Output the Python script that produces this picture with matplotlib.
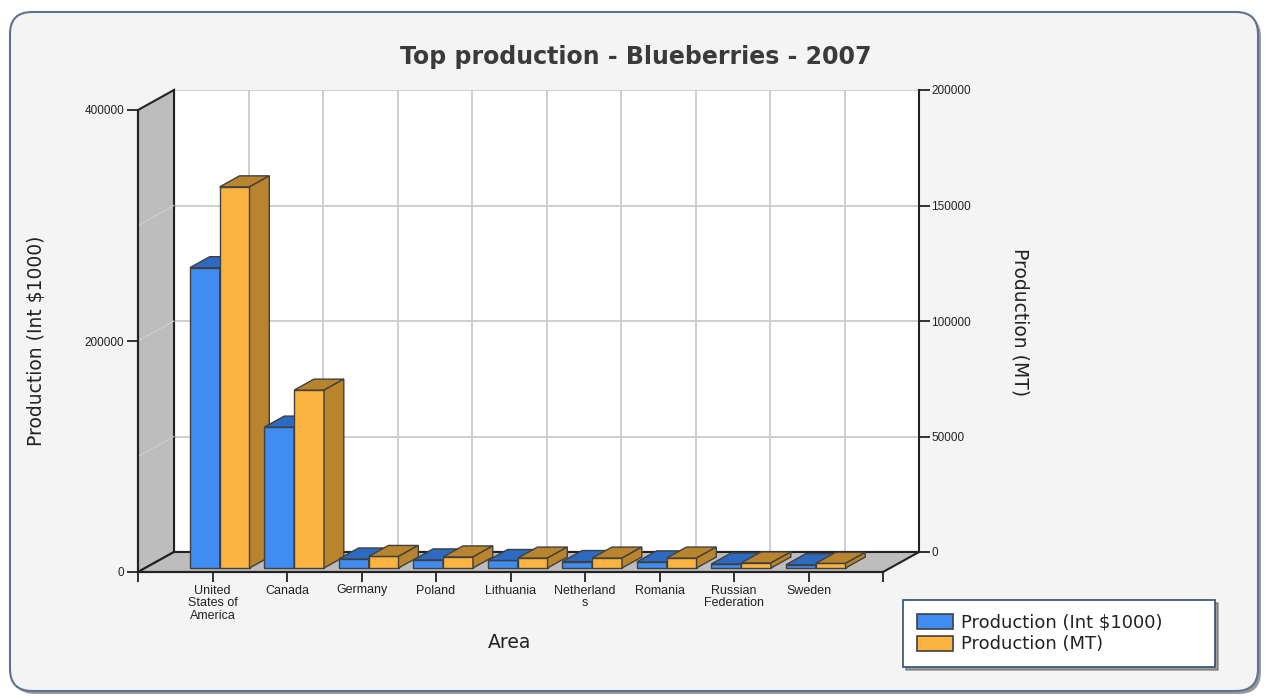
import matplotlib
matplotlib.use("Agg")
import matplotlib.pyplot as plt
from matplotlib.patches import Polygon, Patch, FancyBboxPatch
from matplotlib.transforms import IdentityTransform

# data
areas = ["United\nStates of\nAmerica", "Canada", "Germany", "Poland", "Lithuania",
         "Netherland\ns", "Romania", "Russian\nFederation", "Sweden"]
prod_int = [260000, 122000, 7800, 7000, 6500, 5600, 5300, 3500, 2800]      # Int $1000
prod_mt = [165000, 77000, 5000, 4800, 4300, 4300, 4300, 2200, 2000]        # MT
left_ticks = [0, 200000, 400000]
right_ticks = [0, 50000, 100000, 150000, 200000]

W, H = 1279, 700
fig = plt.figure(figsize=(W / 100, H / 100), dpi=100)
fig.patch.set_facecolor("white")

# rounded grey panel with shadow
shadow = FancyBboxPatch((13, 6), 1248, 679, boxstyle="round,pad=0,rounding_size=22",
                        transform=IdentityTransform(), facecolor="#9a9a9a",
                        edgecolor="none", zorder=-2)
panel = FancyBboxPatch((10, 9), 1248, 679, boxstyle="round,pad=0,rounding_size=22",
                       transform=IdentityTransform(), facecolor="#f4f4f4",
                       edgecolor="#5d7290", linewidth=1.5, zorder=-1)
fig.patches.extend([shadow, panel])

# front plane and back plane (pseudo 3d)
x0, x1, y0, y1 = 138, 883, 572, 110
ddx, ddy = 36, 20
ax_back = fig.add_axes([(x0 + ddx) / W, 1 - (y0 - ddy) / H, (x1 - x0) / W, (y0 - y1) / H])
ax = fig.add_axes([x0 / W, 1 - y0 / H, (x1 - x0) / W, (y0 - y1) / H])

n = len(areas)
YMAX = 400000
ax_back.set_xlim(0, n + 1)
ax_back.set_ylim(0, 200000)
ax_back.set_facecolor("white")
ax_back.set_xticks(range(1, n + 1))
ax_back.set_yticks(right_ticks)
ax_back.grid(True, color="#cccccc", linewidth=1.3)
ax_back.tick_params(axis="x", length=0, labelbottom=False)
ax_back.yaxis.tick_right()
ax_back.tick_params(axis="y", length=8, width=1.3, colors="#222222", labelsize=8.5, pad=1)
for lab in ax_back.get_yticklabels():
    lab.set_fontfamily("Liberation Sans")
ax_back.spines["top"].set_visible(False)
for s in ["left", "right", "bottom"]:
    ax_back.spines[s].set_linewidth(1.5)
    ax_back.spines[s].set_color("#222222")

ax.set_xlim(0, n + 1)
ax.set_ylim(0, YMAX)
ax.patch.set_alpha(0)
ax.spines["top"].set_visible(False)
ax.spines["right"].set_visible(False)
for s in ["left", "bottom"]:
    ax.spines[s].set_linewidth(1.5)
    ax.spines[s].set_color("#222222")
    ax.spines[s].set_zorder(10)
ax.set_yticks(left_ticks)
ax.set_yticklabels([str(v) for v in left_ticks])
ax.set_xticks(range(0, n + 2))
ax.set_xticklabels([""] + areas + [""])
ax.tick_params(axis="y", length=8, width=1.3, colors="#222222", labelsize=8.5, pad=2)
ax.tick_params(axis="x", length=7, width=1.3, colors="#222222", labelsize=9, pad=2)
for lab in ax.get_xticklabels() + ax.get_yticklabels():
    lab.set_fontfamily("Liberation Sans")
for lab in ax.get_xticklabels():
    lab.set_linespacing(1.1)

# depth offset in data units of the front axes
DX = ddx / (x1 - x0) * (n + 1)
DY = ddy / (y0 - y1) * YMAX

wall = "#bdbdbd"
ax.add_patch(Polygon([(0, 0), (DX, DY), (DX, YMAX + DY), (0, YMAX)], closed=True,
                     facecolor=wall, edgecolor="#222222", linewidth=1.5, clip_on=False, zorder=1))
ax.add_patch(Polygon([(0, 0), (n + 1, 0), (n + 1 + DX, DY), (DX, DY)], closed=True,
                     facecolor=wall, edgecolor="#222222", linewidth=1.5, clip_on=False, zorder=1))
for v in [100000, 200000, 300000]:
    ax.plot([0, DX], [v, v + DY], color="#cfcfcf", linewidth=0.8, clip_on=False, zorder=1.5)

# bars
BAR_W = 0.4
Z0, Z1 = 0.2, 0.75
edge = "#404040"
ratio = YMAX / 200000
z = 3.0


def bar3d(left, h, front, dark, z):
    b = Z0 * DY
    ddx_ = (Z1 - Z0) * DX
    ddy_ = (Z1 - Z0) * DY
    ax.bar(left, h, width=BAR_W, bottom=b, align="edge", color=front,
           edgecolor=edge, linewidth=1, zorder=z, clip_on=False)
    top = [(left, b + h), (left + BAR_W, b + h), (left + BAR_W + ddx_, b + h + ddy_),
           (left + ddx_, b + h + ddy_)]
    side = [(left + BAR_W, b), (left + BAR_W + ddx_, b + ddy_),
            (left + BAR_W + ddx_, b + h + ddy_), (left + BAR_W, b + h)]
    for pts in (top, side):
        ax.add_patch(Polygon(pts, closed=True, facecolor=dark, edgecolor=edge,
                             linewidth=1, zorder=z, clip_on=False))


for i in range(n):
    xc = i + 1
    bar3d(xc - BAR_W + Z0 * DX, prod_int[i], "#418cf0", "#2d6bc2", z)
    z += 0.01
    bar3d(xc + Z0 * DX, prod_mt[i] * ratio, "#fcb441", "#b8842e", z)
    z += 0.01

# texts
fig.text(636 / W, 1 - 57 / H, "Top production - Blueberries - 2007", ha="center", va="center",
         fontsize=17, fontweight="bold", color="#3a3a3a")
fig.text(37 / W, 1 - 341 / H, "Production (Int $1000)", rotation=90, ha="center", va="center",
         fontsize=13.5, color="#222222")
fig.text(1020 / W, 1 - 322 / H, "Production (MT)", rotation=-90, ha="center", va="center",
         fontsize=13.5, color="#222222")
fig.text(510 / W, 1 - 643 / H, "Area", ha="center", va="center", fontsize=13.5, color="#222222")

handles = [Patch(facecolor="#418cf0", edgecolor=edge, linewidth=1.2),
           Patch(facecolor="#fcb441", edgecolor=edge, linewidth=1.2)]
leg = fig.legend(handles, ["Production (Int $1000)", "Production (MT)"],
                 loc="center", bbox_to_anchor=(903 / W, 1 - 666 / H, 312 / W, 65 / H),
                 mode="expand", fancybox=False, shadow=True, fontsize=13,
                 handlelength=2.0, handleheight=0.9, handletextpad=0.45,
                 labelspacing=0.2, borderpad=0.75, borderaxespad=0)
leg.get_frame().set_edgecolor("#2f4f6f")
leg.get_frame().set_linewidth(1.2)
for t in leg.get_texts():
    t.set_color("#222222")

fig.savefig("out.png", dpi=100)
